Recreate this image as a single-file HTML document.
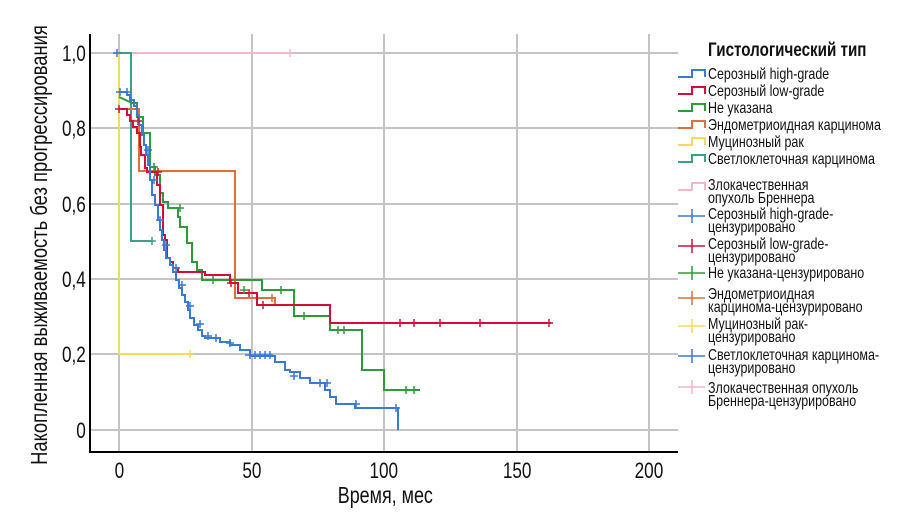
<!DOCTYPE html>
<html><head><meta charset="utf-8"><style>
html,body{margin:0;padding:0;background:#fff;}
svg{display:block;font-family:"Liberation Sans",sans-serif;}
</style></head><body>
<svg width="906" height="517" viewBox="0 0 906 517" xmlns="http://www.w3.org/2000/svg">
<g stroke="#c4c4c4" stroke-width="2" fill="none">
<line x1="90" y1="53" x2="678" y2="53"/><line x1="90" y1="128" x2="678" y2="128"/>
<line x1="90" y1="204" x2="678" y2="204"/><line x1="90" y1="279" x2="678" y2="279"/>
<line x1="90" y1="354" x2="678" y2="354"/><line x1="90" y1="430" x2="678" y2="430"/>
<line x1="119" y1="34" x2="119" y2="452"/><line x1="252" y1="34" x2="252" y2="452"/>
<line x1="384" y1="34" x2="384" y2="452"/><line x1="517" y1="34" x2="517" y2="452"/>
<line x1="649" y1="34" x2="649" y2="452"/>
</g>
<g stroke="#000" stroke-width="2"><line x1="90" y1="34" x2="90" y2="452"/><line x1="89" y1="452" x2="678" y2="452"/></g>
<g fill="none" stroke-width="2">
<polyline stroke="#f2b8c8" points="119,53 290,53"/>
<polyline stroke="#f0dc60" points="119,53 119,354 190,354"/>
<polyline stroke="#3aa088" points="119,53 131,53 131,241 152,241"/>
<polyline stroke="#e0703a" points="119,109 134,109 139,109 139,171 235,171 235,298 275,298 275,305 330,305"/>
<polyline stroke="#2e9a3a" points="119,97 132,103 137,103 137,117 143,117 143,133 150,133 150,167 155,167 155,175 160,175 160,193 163,193 163,202 168,202 168,208 178,208 178,217 180,217 180,227 187,227 187,243 192,243 192,262 197,262 197,270 202,270 202,280 262,280 262,290 294,290 294,316 330,316 330,330 362,330 362,370 384,370 384,390 420,390"/>
<polyline stroke="#d0103a" points="119,109 127,109 127,115 130,115 130,121 133,121 133,127 137,127 137,133 140,133 140,147 141,147 141,155 145,155 145,168 147,168 147,172 157,172 157,185 160,185 160,205 163,205 163,235 165,235 165,240 167,240 167,258 170,258 170,262 173,262 173,268 178,268 178,272 205,272 205,275 230,275 230,283 238,283 238,293 257,293 257,305 330,305 330,323 551,323"/>
<polyline stroke="#3a7ad0" points="119,92 127,92 127,95 130,95 130,100 134,100 134,106 137,106 137,115 139,115 139,125 142,125 142,135 144,135 144,145 146,145 146,155 148,155 148,165 150,165 150,180 152,180 152,195 155,195 155,205 158,205 158,220 160,220 160,230 162,230 162,240 164,240 164,250 166,250 166,258 170,258 170,265 173,265 173,272 176,272 176,280 179,280 179,288 182,288 182,295 185,295 185,302 188,302 188,310 190,310 190,318 194,318 194,325 198,325 198,330 202,330 202,336 205,336 205,338 220,338 220,342 230,342 230,345 240,345 240,350 250,350 250,356 275,356 275,362 285,362 285,370 290,370 290,372 300,372 300,378 310,378 310,383 325,383 325,390 330,390 330,397 336,397 336,404 355,404 355,408 398,408 398,430"/>
</g>
<g stroke-width="1.5" fill="none">
<path stroke="#3a7ad0" d="M113,53h9M117,49v8 M116,92h8M120,88v8M123,92h8M127,88v8M144,150h8M148,146v8M150,180h8M154,176v8M156,220h8M160,216v8M162,245h8M166,241v8M172,268h8M176,264v8M178,285h8M182,281v8M186,306h8M190,302v8M196,324h8M200,320v8M204,336h8M208,332v8M212,338h8M216,334v8M226,343h8M230,339v8M245,355h28M250,351v8M255,351v8M260,351v8M265,351v8M270,351v8M290,376h8M294,372v8M316,383h8M320,379v8M323,383h8M327,379v8M352,404h8M356,400v8M392,408h8M396,404v8"/>
<path stroke="#d0103a" d="M115,109h8M119,105v8M134,121h8M138,117v8M154,172h8M158,168v8M227,283h8M231,279v8M245,293h8M249,289v8M259,305h8M263,301v8M396,323h8M400,319v8M410,323h8M414,319v8M436,323h8M440,319v8M476,323h8M480,319v8M545,323h8M549,319v8"/>
<path stroke="#2e9a3a" d="M150,167h8M154,163v8M176,208h8M180,204v8M209,280h8M213,276v8M240,290h8M244,286v8M277,290h8M281,286v8M300,316h8M304,312v8M334,330h8M338,326v8M340,330h8M344,326v8M402,390h8M406,386v8M410,390h8M414,386v8"/>
<path stroke="#e0703a" d="M268,298h8M272,294v8"/>
<path stroke="#f0dc60" d="M186,354h8M190,350v8"/>
<path stroke="#3aa088" d="M148,241h8M152,237v8"/>
<path stroke="#f2b8c8" d="M286,53h8M290,49v8"/>
</g>
<g font-size="22" fill="#111" text-anchor="end">
<g transform="scale(0.78,1)">
<text x="110" y="61">1,0</text><text x="110" y="136">0,8</text><text x="110" y="212">0,6</text>
<text x="110" y="287">0,4</text><text x="110" y="362">0,2</text><text x="110" y="438">0</text>
</g></g>
<g font-size="22" fill="#111" text-anchor="middle" transform="scale(0.78,1)">
<text x="153" y="478">0</text><text x="323" y="478">50</text><text x="492" y="478">100</text>
<text x="663" y="478">150</text><text x="832" y="478">200</text>
<text x="494" y="503" font-size="23">Время, мес</text>
</g>
<text transform="translate(47,245) rotate(-90) scale(0.8,1)" text-anchor="middle" font-size="23" fill="#111">Накопленная выживаемость без прогрессирования</text>
<text transform="translate(708,56) scale(0.8,1)" font-size="19" font-weight="bold" fill="#111">Гистологический тип</text>
<g fill="none" stroke-width="2">
<path stroke="#3a7ad0" d="M678,77h14v-7h13v7"/>
<path stroke="#d0103a" d="M678,94h14v-7h13v7"/>
<path stroke="#2e9a3a" d="M678,111h14v-7h13v7"/>
<path stroke="#e0703a" d="M678,128h14v-7h13v7"/>
<path stroke="#f0dc60" d="M678,145h14v-7h13v7"/>
<path stroke="#3aa088" d="M678,162h14v-7h13v7"/>
<path stroke="#f2b8c8" d="M678,190h14v-7h13v7"/>
<path stroke-width="1.5" stroke="#3a7ad0" d="M678,216h27M692,209v14"/>
<path stroke-width="1.5" stroke="#d0103a" d="M678,246h27M692,239v14"/>
<path stroke-width="1.5" stroke="#2e9a3a" d="M678,273h27M692,266v14"/>
<path stroke-width="1.5" stroke="#e0703a" d="M678,298h27M692,291v14"/>
<path stroke-width="1.5" stroke="#f0dc60" d="M678,326h27M692,319v14"/>
<path stroke-width="1.5" stroke="#3a7ad0" d="M678,356h27M692,349v14"/>
<path stroke-width="1.5" stroke="#f2b8c8" d="M678,387h27M692,380v14"/>
</g>
<g font-size="16" fill="#111" transform="translate(708,0) scale(0.78,1)">
<text x="0" y="79">Серозный high-grade</text>
<text x="0" y="96">Серозный low-grade</text>
<text x="0" y="113">Не указана</text>
<text x="0" y="130">Эндометриоидная карцинома</text>
<text x="0" y="147">Муцинозный рак</text>
<text x="0" y="164">Светлоклеточная карцинома</text>
<text x="0" y="190">Злокачественная</text><text x="0" y="203">опухоль Бреннера</text>
<text x="0" y="219">Серозный high-grade-</text><text x="0" y="232">цензурировано</text>
<text x="0" y="249">Серозный low-grade-</text><text x="0" y="262">цензурировано</text>
<text x="0" y="278">Не указана-цензурировано</text>
<text x="0" y="299">Эндометриоидная</text><text x="0" y="312">карцинома-цензурировано</text>
<text x="0" y="329">Муцинозный рак-</text><text x="0" y="342">цензурировано</text>
<text x="0" y="360">Светлоклеточная карцинома-</text><text x="0" y="373">цензурировано</text>
<text x="0" y="393">Злокачественная опухоль</text><text x="0" y="406">Бреннера-цензурировано</text>
</g>
</svg>
</body></html>
